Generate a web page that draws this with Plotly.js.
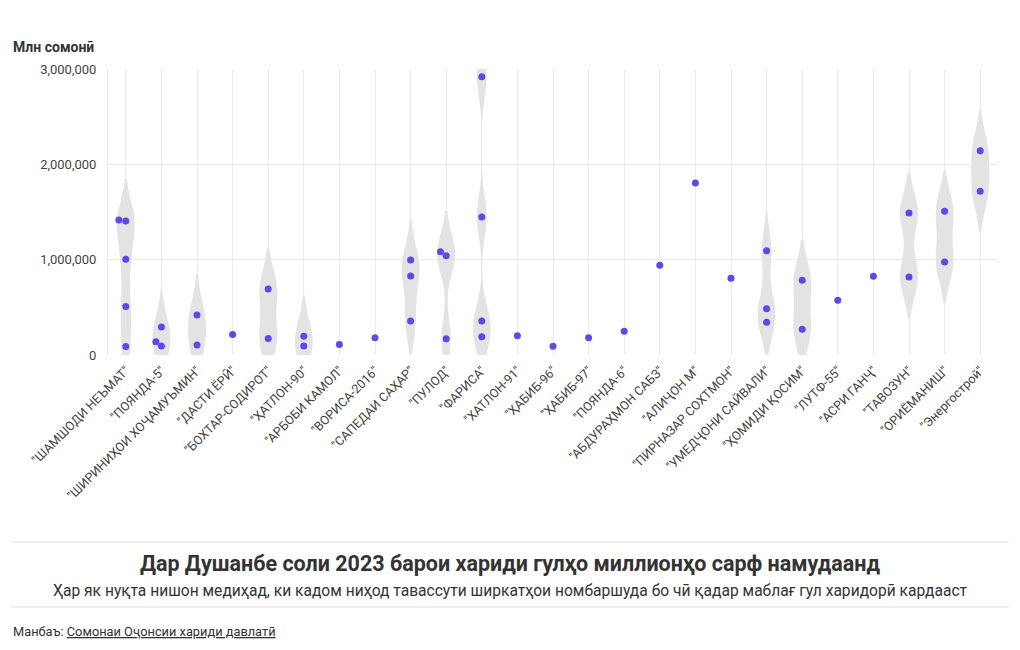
<!DOCTYPE html>
<html>
<head>
<meta charset="utf-8">
<script src="https://cdn.plot.ly/plotly-3.0.1.min.js"></script>
<style>html,body{margin:0;padding:0;background:#fff;}#chart{width:1020px;height:650px;}</style>
</head>
<body>
<div id="chart"></div>
<script>
// ---- Data ----
const categories = [
  '"ШАМШОДИ НЕЪМАТ"', '"ПОЯНДА-5"', '"ШИРИНИҲОИ ХОҶАМУЪМИН"', '"ДАСТИ ЁРӢ"',
  '"БОХТАР-СОДИРОТ"', '"ҲАТЛОН-90"', '"АРБОБИ КАМОЛ"', '"ВОРИСА-2016"',
  '"САПЕДАИ САҲАР"', '"ПУЛОД"', '"ФАРИСА"', '"ХАТЛОН-91"', '"ҲАБИБ-96"',
  '"ҲАБИБ-97"', '"ПОЯНДА-6"', '"АБДУРАҲМОН САБЗ"', '"АЛИҶОН М"',
  '"ПИРНАЗАР СОХТМОН"', '"УМЕДҶОНИ САЙВАЛИ"', '"ҲОМИДИ ҚОСИМ"', '"ЛУТФ-55"',
  '"АСРИ ГАНҶ"', '"ТАВОЗУН"', '"ОРИЁМАНИШ"', '"Энергострой"'
];
// one entry per purchase: company index and amount (somoni)
const pointCompany = [
  0,0,0,0,0, 1,1,1, 2,2, 3, 4,4, 5,5, 6, 7, 8,8,8, 9,9,9, 10,10,10,10,
  11, 12, 13, 14, 15, 16, 17, 18,18,18, 19,19, 20, 21, 22,22, 23,23, 24,24
];
const pointAmount = [
  1415000,1405000,1005000,510000,90000,
  140000,295000,95000,
  420000,105000,
  215000,
  692000,172000,
  196000,94000,
  110000,
  182000,
  997000,829000,357000,
  1084000,1042000,171000,
  2920000,1448000,357000,192000,
  203000,
  91000,
  182000,
  248000,
  941000,
  1804000,
  804000,
  1094000,486000,343000,
  783000,269000,
  573000,
  825000,
  1490000,818000,
  1507000,976000,
  2143000,1717000
];
const yTickVals = [0, 1000000, 2000000, 3000000];
const yTickText = ['0', '1,000,000', '2,000,000', '3,000,000'];

// ---- Layout constants ----
const W = 1020, H = 650;
const M = {l: 108, r: 22, t: 69, b: 295};
const plotW = W - M.l - M.r, plotH = H - M.t - M.b;
const yMax = 3000000;
const pxPerCat = plotW / categories.length;
const pxPerVal = plotH / yMax;
const DOT = 7;
const FONT = 'Roboto, "Noto Sans", sans-serif';

// ---- Build traces ----
const traces = [];
const groups = categories.map(() => []);
pointCompany.forEach((c, i) => groups[c].push(pointAmount[i]));

groups.forEach((vals, c) => {
  if (vals.length > 1) {
    traces.push({
      type: 'violin',
      x: vals.map(() => c),
      y: vals,
      width: 0.5,
      bandwidth: 215000,
      spanmode: 'soft',
      points: false,
      fillcolor: '#e3e3e3',
      line: {width: 0, color: 'rgba(0,0,0,0)'},
      box: {visible: false},
      meanline: {visible: false},
      hoverinfo: 'skip',
      showlegend: false
    });
  }
});

// beeswarm placement (pixel-space collision avoidance)
const px = [], py = [];
groups.forEach((vals, c) => {
  const sorted = vals.slice().sort((a, b) => a - b);
  const placed = [];
  sorted.forEach(v => {
    const y = v * pxPerVal;
    const cands = [0];
    placed.forEach(p => {
      const dy = Math.abs(y - p.y);
      if (dy < DOT) {
        const dx = Math.sqrt(DOT * DOT - dy * dy);
        cands.push(p.x - dx, p.x + dx);
      }
    });
    cands.sort((a, b) => (Math.abs(a) - Math.abs(b)) || (a - b));
    let xo = 0;
    for (const cx of cands) {
      const ok = placed.every(p => Math.hypot(cx - p.x, y - p.y) >= DOT - 1e-6);
      if (ok) { xo = cx; break; }
    }
    placed.push({x: xo, y: y});
    px.push(c + xo / pxPerCat);
    py.push(v);
  });
});

traces.push({
  type: 'scatter',
  mode: 'markers',
  x: px,
  y: py,
  marker: {size: DOT, color: '#6247e8'},
  cliponaxis: false,
  hoverinfo: 'y',
  showlegend: false
});

const pY = pxY => (H - M.b - pxY) / plotH;   // pixel y -> paper y
const pX = pxX => (pxX - M.l) / plotW;       // pixel x -> paper x

const layout = {
  width: W, height: H,
  margin: M,
  paper_bgcolor: '#fff',
  plot_bgcolor: '#fff',
  font: {family: FONT, color: '#444', size: 12},
  showlegend: false,
  title: {
    text: '<b>Дар Душанбе соли 2023 барои хариди гулҳо миллионҳо сарф намудаанд</b>',
    font: {family: FONT, size: 21.5, color: '#333'},
    x: 0.5, xanchor: 'center',
    y: 1 - 563 / H, yref: 'container', yanchor: 'middle'
  },
  xaxis: {
    type: 'linear',
    range: [-0.5, categories.length - 0.5],
    tickvals: categories.map((_, i) => i),
    ticktext: categories,
    tickangle: -45,
    tickfont: {family: FONT, size: 12.5, color: '#444'},
    showgrid: true, gridcolor: '#ebebeb', gridwidth: 1,
    zeroline: false, showline: false,
    ticks: '', ticklabelstandoff: 5, fixedrange: true
  },
  yaxis: {
    range: [0, yMax],
    tickvals: yTickVals,
    ticktext: yTickText,
    tickfont: {family: FONT, size: 13, color: '#444'},
    showgrid: true, gridcolor: '#ebebeb', gridwidth: 1,
    zeroline: false,
    showline: true, linecolor: '#ebebeb', linewidth: 1,
    ticks: '', ticklabelstandoff: 8, fixedrange: true
  },
  annotations: [
    {
      text: '<b>Млн сомонӣ</b>', xref: 'paper', yref: 'paper',
      x: pX(11), y: pY(47), xanchor: 'left', yanchor: 'middle',
      showarrow: false, font: {family: FONT, size: 14, color: '#333'}
    },
    {
      text: 'Ҳар як нуқта нишон медиҳад, ки кадом ниҳод тавассути ширкатҳои номбаршуда бо чӣ қадар маблағ гул харидорӣ кардааст',
      xref: 'paper', yref: 'paper', x: pX(510), y: pY(591),
      xanchor: 'center', yanchor: 'middle', showarrow: false,
      font: {family: FONT, size: 15.6, color: '#333'}
    },
    {
      text: 'Манбаъ: <u>Сомонаи Оҷонсии хариди давлатӣ</u>',
      xref: 'paper', yref: 'paper', x: pX(11), y: pY(631),
      xanchor: 'left', yanchor: 'middle', showarrow: false,
      font: {family: FONT, size: 12.8, color: '#333'}
    }
  ],
  shapes: [
    {type: 'line', xref: 'paper', yref: 'paper', x0: pX(11), x1: pX(1009), y0: pY(542), y1: pY(542), line: {color: '#dddddd', width: 1}},
    {type: 'line', xref: 'paper', yref: 'paper', x0: pX(11), x1: pX(1009), y0: pY(607), y1: pY(607), line: {color: '#dddddd', width: 1}}
  ]
};

Plotly.newPlot('chart', traces, layout, {displayModeBar: false, staticPlot: true});
</script>
</body>
</html>
